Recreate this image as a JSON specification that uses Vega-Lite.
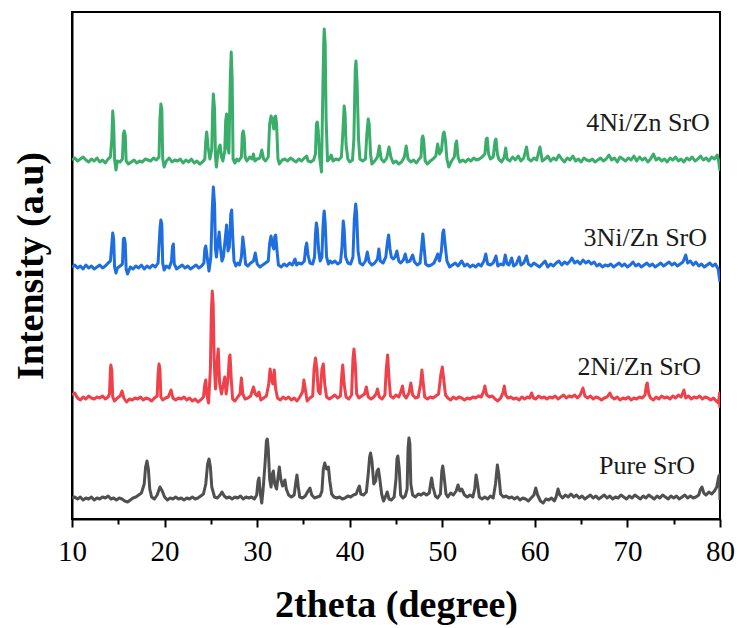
{
"$schema":"https://vega.github.io/schema/vega-lite/v6.json",
"width":648,"height":507,
"autosize":{"type":"none"},
"padding":{"left":72,"top":12,"right":19,"bottom":109},
"background":"white",
"config":{"view":{"stroke":"black","strokeWidth":2},"font":"Liberation Serif"},
"encoding":{
 "x":{"field":"x","type":"quantitative","scale":{"domain":[10,80],"nice":false,"zero":false},
  "axis":{"values":[10,15,20,25,30,35,40,45,50,55,60,65,70,75,80],"labelExpr":"datum.value % 10 === 0 ? datum.label : ''","tickSize":{"condition":{"test":"datum.value % 10 === 0","value":8},"value":5},"tickColor":"black","tickWidth":2,"domainColor":"black","domainWidth":2,"grid":false,"labelFont":"Liberation Serif","labelFontSize":29,"labelColor":"black","labelPadding":10,"labelFlush":false,"labelOverlap":false,"title":"2theta (degree)","titleFont":"Liberation Serif","titleFontSize":38,"titleFontWeight":"bold","titleColor":"black","titlePadding":20}},
 "y":{"field":"y","type":"quantitative","scale":{"domain":[0,507],"nice":false,"zero":false},
  "axis":{"ticks":false,"labels":false,"grid":false,"domainColor":"black","domainWidth":2,"title":"Intensity (a.u)","titleFont":"Liberation Serif","titleFontSize":38,"titleFontWeight":"bold","titleColor":"black","titlePadding":22}}
},
"layer":[
{"data":{"values":[
{"s":"g","x":10.0,"y":359},{"s":"g","x":10.3,"y":361},{"s":"g","x":10.6,"y":358},{"s":"g","x":10.9,"y":360},{"s":"g","x":11.2,"y":362},{"s":"g","x":11.5,"y":359},{"s":"g","x":11.8,"y":357},{"s":"g","x":12.1,"y":360},{"s":"g","x":12.4,"y":358},{"s":"g","x":12.7,"y":361},{"s":"g","x":13.0,"y":357},{"s":"g","x":13.3,"y":359},{"s":"g","x":13.6,"y":356},{"s":"g","x":13.9,"y":360},{"s":"g","x":14.15,"y":362},{"s":"g","x":14.3,"y":380},{"s":"g","x":14.4,"y":408},{"s":"g","x":14.5,"y":395},{"s":"g","x":14.6,"y":360},{"s":"g","x":14.75,"y":349},{"s":"g","x":14.9,"y":358},{"s":"g","x":15.2,"y":357},{"s":"g","x":15.45,"y":360},{"s":"g","x":15.55,"y":385},{"s":"g","x":15.65,"y":388},{"s":"g","x":15.75,"y":384},{"s":"g","x":15.85,"y":358},{"s":"g","x":16.1,"y":355},{"s":"g","x":16.4,"y":357},{"s":"g","x":16.7,"y":359},{"s":"g","x":17.0,"y":356},{"s":"g","x":17.3,"y":358},{"s":"g","x":17.6,"y":357},{"s":"g","x":17.9,"y":360},{"s":"g","x":18.2,"y":359},{"s":"g","x":18.5,"y":358},{"s":"g","x":18.8,"y":361},{"s":"g","x":19.1,"y":359},{"s":"g","x":19.4,"y":362},{"s":"g","x":19.5,"y":400},{"s":"g","x":19.6,"y":415},{"s":"g","x":19.7,"y":410},{"s":"g","x":19.8,"y":360},{"s":"g","x":19.95,"y":352},{"s":"g","x":20.2,"y":358},{"s":"g","x":20.5,"y":361},{"s":"g","x":20.8,"y":357},{"s":"g","x":21.1,"y":359},{"s":"g","x":21.4,"y":358},{"s":"g","x":21.7,"y":360},{"s":"g","x":22.0,"y":356},{"s":"g","x":22.3,"y":359},{"s":"g","x":22.6,"y":357},{"s":"g","x":22.9,"y":360},{"s":"g","x":23.2,"y":356},{"s":"g","x":23.5,"y":358},{"s":"g","x":23.8,"y":355},{"s":"g","x":24.1,"y":357},{"s":"g","x":24.35,"y":360},{"s":"g","x":24.45,"y":378},{"s":"g","x":24.55,"y":387},{"s":"g","x":24.7,"y":372},{"s":"g","x":24.9,"y":360},{"s":"g","x":25.1,"y":370},{"s":"g","x":25.2,"y":410},{"s":"g","x":25.27,"y":425},{"s":"g","x":25.4,"y":410},{"s":"g","x":25.5,"y":362},{"s":"g","x":25.6,"y":352},{"s":"g","x":25.75,"y":365},{"s":"g","x":25.9,"y":372},{"s":"g","x":26.0,"y":374},{"s":"g","x":26.15,"y":362},{"s":"g","x":26.3,"y":358},{"s":"g","x":26.5,"y":368},{"s":"g","x":26.6,"y":398},{"s":"g","x":26.7,"y":405},{"s":"g","x":26.8,"y":372},{"s":"g","x":26.95,"y":366},{"s":"g","x":27.1,"y":440},{"s":"g","x":27.2,"y":467},{"s":"g","x":27.3,"y":440},{"s":"g","x":27.4,"y":360},{"s":"g","x":27.6,"y":356},{"s":"g","x":27.8,"y":360},{"s":"g","x":28.0,"y":358},{"s":"g","x":28.3,"y":362},{"s":"g","x":28.4,"y":385},{"s":"g","x":28.5,"y":388},{"s":"g","x":28.6,"y":382},{"s":"g","x":28.7,"y":362},{"s":"g","x":28.9,"y":358},{"s":"g","x":29.2,"y":362},{"s":"g","x":29.45,"y":360},{"s":"g","x":29.6,"y":365},{"s":"g","x":29.75,"y":358},{"s":"g","x":30.0,"y":360},{"s":"g","x":30.3,"y":361},{"s":"g","x":30.5,"y":369},{"s":"g","x":30.7,"y":360},{"s":"g","x":30.9,"y":358},{"s":"g","x":31.2,"y":362},{"s":"g","x":31.35,"y":395},{"s":"g","x":31.5,"y":403},{"s":"g","x":31.65,"y":398},{"s":"g","x":31.8,"y":390},{"s":"g","x":31.9,"y":402},{"s":"g","x":32.0,"y":403},{"s":"g","x":32.1,"y":395},{"s":"g","x":32.25,"y":360},{"s":"g","x":32.4,"y":355},{"s":"g","x":32.7,"y":359},{"s":"g","x":33.0,"y":360},{"s":"g","x":33.3,"y":358},{"s":"g","x":33.6,"y":361},{"s":"g","x":33.9,"y":359},{"s":"g","x":34.2,"y":357},{"s":"g","x":34.5,"y":360},{"s":"g","x":34.8,"y":358},{"s":"g","x":35.1,"y":361},{"s":"g","x":35.25,"y":362},{"s":"g","x":35.35,"y":363},{"s":"g","x":35.5,"y":358},{"s":"g","x":35.8,"y":357},{"s":"g","x":36.1,"y":359},{"s":"g","x":36.3,"y":365},{"s":"g","x":36.4,"y":395},{"s":"g","x":36.5,"y":397},{"s":"g","x":36.6,"y":388},{"s":"g","x":36.75,"y":362},{"s":"g","x":36.95,"y":347},{"s":"g","x":37.1,"y":430},{"s":"g","x":37.2,"y":480},{"s":"g","x":37.25,"y":490},{"s":"g","x":37.35,"y":475},{"s":"g","x":37.45,"y":400},{"s":"g","x":37.6,"y":358},{"s":"g","x":37.8,"y":360},{"s":"g","x":38.0,"y":364},{"s":"g","x":38.2,"y":358},{"s":"g","x":38.5,"y":360},{"s":"g","x":38.8,"y":359},{"s":"g","x":39.1,"y":362},{"s":"g","x":39.25,"y":385},{"s":"g","x":39.4,"y":413},{"s":"g","x":39.5,"y":405},{"s":"g","x":39.6,"y":375},{"s":"g","x":39.8,"y":360},{"s":"g","x":40.0,"y":357},{"s":"g","x":40.3,"y":359},{"s":"g","x":40.45,"y":380},{"s":"g","x":40.6,"y":450},{"s":"g","x":40.68,"y":458},{"s":"g","x":40.8,"y":435},{"s":"g","x":40.95,"y":380},{"s":"g","x":41.1,"y":360},{"s":"g","x":41.4,"y":358},{"s":"g","x":41.7,"y":360},{"s":"g","x":41.85,"y":385},{"s":"g","x":42.0,"y":400},{"s":"g","x":42.1,"y":395},{"s":"g","x":42.25,"y":365},{"s":"g","x":42.4,"y":355},{"s":"g","x":42.7,"y":358},{"s":"g","x":43.0,"y":362},{"s":"g","x":43.2,"y":373},{"s":"g","x":43.4,"y":360},{"s":"g","x":43.7,"y":357},{"s":"g","x":44.0,"y":361},{"s":"g","x":44.25,"y":372},{"s":"g","x":44.45,"y":362},{"s":"g","x":44.7,"y":356},{"s":"g","x":45.0,"y":358},{"s":"g","x":45.3,"y":355},{"s":"g","x":45.6,"y":357},{"s":"g","x":45.9,"y":362},{"s":"g","x":46.1,"y":373},{"s":"g","x":46.3,"y":360},{"s":"g","x":46.6,"y":357},{"s":"g","x":46.9,"y":359},{"s":"g","x":47.2,"y":356},{"s":"g","x":47.5,"y":360},{"s":"g","x":47.7,"y":362},{"s":"g","x":47.8,"y":380},{"s":"g","x":47.9,"y":383},{"s":"g","x":48.0,"y":378},{"s":"g","x":48.15,"y":358},{"s":"g","x":48.4,"y":355},{"s":"g","x":48.7,"y":358},{"s":"g","x":49.0,"y":360},{"s":"g","x":49.3,"y":363},{"s":"g","x":49.5,"y":375},{"s":"g","x":49.7,"y":365},{"s":"g","x":49.9,"y":368},{"s":"g","x":50.1,"y":385},{"s":"g","x":50.2,"y":387},{"s":"g","x":50.35,"y":378},{"s":"g","x":50.5,"y":360},{"s":"g","x":50.7,"y":352},{"s":"g","x":51.0,"y":358},{"s":"g","x":51.3,"y":362},{"s":"g","x":51.45,"y":375},{"s":"g","x":51.55,"y":378},{"s":"g","x":51.7,"y":362},{"s":"g","x":51.9,"y":357},{"s":"g","x":52.2,"y":359},{"s":"g","x":52.5,"y":357},{"s":"g","x":52.8,"y":360},{"s":"g","x":53.1,"y":358},{"s":"g","x":53.4,"y":361},{"s":"g","x":53.7,"y":359},{"s":"g","x":54.0,"y":360},{"s":"g","x":54.3,"y":362},{"s":"g","x":54.6,"y":365},{"s":"g","x":54.75,"y":380},{"s":"g","x":54.85,"y":381},{"s":"g","x":55.0,"y":365},{"s":"g","x":55.2,"y":360},{"s":"g","x":55.5,"y":362},{"s":"g","x":55.7,"y":378},{"s":"g","x":55.8,"y":380},{"s":"g","x":55.95,"y":365},{"s":"g","x":56.1,"y":360},{"s":"g","x":56.4,"y":357},{"s":"g","x":56.7,"y":362},{"s":"g","x":56.85,"y":371},{"s":"g","x":57.0,"y":360},{"s":"g","x":57.3,"y":358},{"s":"g","x":57.6,"y":362},{"s":"g","x":57.9,"y":359},{"s":"g","x":58.2,"y":363},{"s":"g","x":58.5,"y":358},{"s":"g","x":58.8,"y":361},{"s":"g","x":59.1,"y":372},{"s":"g","x":59.3,"y":360},{"s":"g","x":59.6,"y":358},{"s":"g","x":59.9,"y":361},{"s":"g","x":60.2,"y":359},{"s":"g","x":60.55,"y":372},{"s":"g","x":60.8,"y":358},{"s":"g","x":61.1,"y":360},{"s":"g","x":61.4,"y":363},{"s":"g","x":61.7,"y":358},{"s":"g","x":62.0,"y":361},{"s":"g","x":62.3,"y":359},{"s":"g","x":62.6,"y":364},{"s":"g","x":62.9,"y":360},{"s":"g","x":63.2,"y":357},{"s":"g","x":63.5,"y":361},{"s":"g","x":63.8,"y":359},{"s":"g","x":64.1,"y":363},{"s":"g","x":64.4,"y":358},{"s":"g","x":64.7,"y":360},{"s":"g","x":65.0,"y":357},{"s":"g","x":65.3,"y":361},{"s":"g","x":65.6,"y":359},{"s":"g","x":65.9,"y":358},{"s":"g","x":66.2,"y":360},{"s":"g","x":66.5,"y":357},{"s":"g","x":66.8,"y":359},{"s":"g","x":67.1,"y":361},{"s":"g","x":67.4,"y":358},{"s":"g","x":67.7,"y":360},{"s":"g","x":68.0,"y":364},{"s":"g","x":68.3,"y":359},{"s":"g","x":68.6,"y":361},{"s":"g","x":68.9,"y":357},{"s":"g","x":69.2,"y":362},{"s":"g","x":69.5,"y":360},{"s":"g","x":69.8,"y":358},{"s":"g","x":70.1,"y":361},{"s":"g","x":70.4,"y":359},{"s":"g","x":70.7,"y":363},{"s":"g","x":71.0,"y":358},{"s":"g","x":71.3,"y":362},{"s":"g","x":71.6,"y":359},{"s":"g","x":71.9,"y":361},{"s":"g","x":72.2,"y":357},{"s":"g","x":72.5,"y":360},{"s":"g","x":72.8,"y":365},{"s":"g","x":73.1,"y":359},{"s":"g","x":73.4,"y":361},{"s":"g","x":73.7,"y":358},{"s":"g","x":74.0,"y":360},{"s":"g","x":74.3,"y":357},{"s":"g","x":74.6,"y":361},{"s":"g","x":74.9,"y":359},{"s":"g","x":75.2,"y":362},{"s":"g","x":75.5,"y":358},{"s":"g","x":75.8,"y":360},{"s":"g","x":76.1,"y":357},{"s":"g","x":76.4,"y":361},{"s":"g","x":76.7,"y":359},{"s":"g","x":77.0,"y":362},{"s":"g","x":77.3,"y":358},{"s":"g","x":77.6,"y":360},{"s":"g","x":77.9,"y":363},{"s":"g","x":78.2,"y":359},{"s":"g","x":78.5,"y":361},{"s":"g","x":78.8,"y":358},{"s":"g","x":79.1,"y":362},{"s":"g","x":79.4,"y":360},{"s":"g","x":79.7,"y":364},{"s":"g","x":79.85,"y":358},{"s":"g","x":80.0,"y":348},
{"s":"b","x":10.0,"y":252},{"s":"b","x":10.3,"y":254},{"s":"b","x":10.6,"y":251},{"s":"b","x":10.9,"y":253},{"s":"b","x":11.2,"y":250},{"s":"b","x":11.5,"y":254},{"s":"b","x":11.8,"y":251},{"s":"b","x":12.1,"y":253},{"s":"b","x":12.4,"y":250},{"s":"b","x":12.7,"y":252},{"s":"b","x":13.0,"y":254},{"s":"b","x":13.3,"y":251},{"s":"b","x":13.6,"y":253},{"s":"b","x":13.9,"y":256},{"s":"b","x":14.15,"y":258},{"s":"b","x":14.3,"y":275},{"s":"b","x":14.4,"y":286},{"s":"b","x":14.5,"y":280},{"s":"b","x":14.6,"y":252},{"s":"b","x":14.75,"y":246},{"s":"b","x":14.9,"y":251},{"s":"b","x":15.2,"y":253},{"s":"b","x":15.45,"y":255},{"s":"b","x":15.55,"y":280},{"s":"b","x":15.65,"y":281},{"s":"b","x":15.75,"y":276},{"s":"b","x":15.85,"y":250},{"s":"b","x":16.0,"y":245},{"s":"b","x":16.3,"y":252},{"s":"b","x":16.6,"y":250},{"s":"b","x":16.9,"y":253},{"s":"b","x":17.2,"y":251},{"s":"b","x":17.5,"y":254},{"s":"b","x":17.8,"y":250},{"s":"b","x":18.1,"y":253},{"s":"b","x":18.4,"y":251},{"s":"b","x":18.7,"y":254},{"s":"b","x":19.0,"y":252},{"s":"b","x":19.3,"y":256},{"s":"b","x":19.5,"y":290},{"s":"b","x":19.6,"y":299},{"s":"b","x":19.7,"y":295},{"s":"b","x":19.8,"y":256},{"s":"b","x":19.95,"y":249},{"s":"b","x":20.2,"y":253},{"s":"b","x":20.5,"y":251},{"s":"b","x":20.75,"y":258},{"s":"b","x":20.85,"y":272},{"s":"b","x":20.95,"y":275},{"s":"b","x":21.05,"y":255},{"s":"b","x":21.3,"y":250},{"s":"b","x":21.6,"y":252},{"s":"b","x":21.9,"y":254},{"s":"b","x":22.2,"y":251},{"s":"b","x":22.5,"y":253},{"s":"b","x":22.8,"y":250},{"s":"b","x":23.1,"y":252},{"s":"b","x":23.4,"y":254},{"s":"b","x":23.7,"y":251},{"s":"b","x":24.0,"y":253},{"s":"b","x":24.25,"y":256},{"s":"b","x":24.35,"y":270},{"s":"b","x":24.45,"y":273},{"s":"b","x":24.6,"y":262},{"s":"b","x":24.8,"y":248},{"s":"b","x":25.0,"y":262},{"s":"b","x":25.15,"y":310},{"s":"b","x":25.27,"y":332},{"s":"b","x":25.4,"y":315},{"s":"b","x":25.5,"y":270},{"s":"b","x":25.6,"y":262},{"s":"b","x":25.75,"y":275},{"s":"b","x":25.9,"y":287},{"s":"b","x":26.05,"y":270},{"s":"b","x":26.2,"y":258},{"s":"b","x":26.35,"y":262},{"s":"b","x":26.55,"y":280},{"s":"b","x":26.7,"y":294},{"s":"b","x":26.85,"y":268},{"s":"b","x":27.0,"y":272},{"s":"b","x":27.15,"y":305},{"s":"b","x":27.25,"y":309},{"s":"b","x":27.35,"y":285},{"s":"b","x":27.5,"y":258},{"s":"b","x":27.7,"y":253},{"s":"b","x":27.9,"y":256},{"s":"b","x":28.1,"y":254},{"s":"b","x":28.3,"y":262},{"s":"b","x":28.45,"y":282},{"s":"b","x":28.6,"y":270},{"s":"b","x":28.75,"y":255},{"s":"b","x":29.0,"y":253},{"s":"b","x":29.3,"y":256},{"s":"b","x":29.6,"y":258},{"s":"b","x":29.8,"y":266},{"s":"b","x":30.0,"y":255},{"s":"b","x":30.3,"y":252},{"s":"b","x":30.6,"y":254},{"s":"b","x":30.9,"y":256},{"s":"b","x":31.2,"y":258},{"s":"b","x":31.35,"y":276},{"s":"b","x":31.5,"y":283},{"s":"b","x":31.65,"y":274},{"s":"b","x":31.8,"y":270},{"s":"b","x":31.9,"y":282},{"s":"b","x":32.0,"y":284},{"s":"b","x":32.15,"y":268},{"s":"b","x":32.3,"y":254},{"s":"b","x":32.6,"y":252},{"s":"b","x":32.9,"y":255},{"s":"b","x":33.2,"y":253},{"s":"b","x":33.5,"y":256},{"s":"b","x":33.8,"y":254},{"s":"b","x":34.0,"y":258},{"s":"b","x":34.1,"y":260},{"s":"b","x":34.25,"y":254},{"s":"b","x":34.5,"y":256},{"s":"b","x":34.8,"y":255},{"s":"b","x":35.1,"y":258},{"s":"b","x":35.25,"y":272},{"s":"b","x":35.35,"y":276},{"s":"b","x":35.5,"y":264},{"s":"b","x":35.7,"y":256},{"s":"b","x":36.0,"y":255},{"s":"b","x":36.2,"y":262},{"s":"b","x":36.3,"y":285},{"s":"b","x":36.4,"y":296},{"s":"b","x":36.5,"y":290},{"s":"b","x":36.65,"y":268},{"s":"b","x":36.8,"y":258},{"s":"b","x":37.0,"y":262},{"s":"b","x":37.1,"y":290},{"s":"b","x":37.2,"y":305},{"s":"b","x":37.25,"y":308},{"s":"b","x":37.35,"y":296},{"s":"b","x":37.5,"y":262},{"s":"b","x":37.7,"y":255},{"s":"b","x":37.9,"y":258},{"s":"b","x":38.1,"y":256},{"s":"b","x":38.4,"y":258},{"s":"b","x":38.7,"y":255},{"s":"b","x":39.0,"y":257},{"s":"b","x":39.15,"y":270},{"s":"b","x":39.3,"y":298},{"s":"b","x":39.4,"y":290},{"s":"b","x":39.55,"y":262},{"s":"b","x":39.8,"y":256},{"s":"b","x":40.1,"y":255},{"s":"b","x":40.35,"y":262},{"s":"b","x":40.5,"y":300},{"s":"b","x":40.65,"y":315},{"s":"b","x":40.75,"y":305},{"s":"b","x":40.9,"y":268},{"s":"b","x":41.1,"y":256},{"s":"b","x":41.4,"y":254},{"s":"b","x":41.7,"y":258},{"s":"b","x":41.9,"y":267},{"s":"b","x":42.1,"y":257},{"s":"b","x":42.4,"y":254},{"s":"b","x":42.7,"y":256},{"s":"b","x":43.0,"y":260},{"s":"b","x":43.15,"y":270},{"s":"b","x":43.3,"y":258},{"s":"b","x":43.6,"y":256},{"s":"b","x":43.9,"y":262},{"s":"b","x":44.05,"y":275},{"s":"b","x":44.2,"y":284},{"s":"b","x":44.35,"y":270},{"s":"b","x":44.5,"y":262},{"s":"b","x":44.7,"y":260},{"s":"b","x":44.9,"y":262},{"s":"b","x":45.1,"y":268},{"s":"b","x":45.3,"y":258},{"s":"b","x":45.5,"y":256},{"s":"b","x":45.8,"y":259},{"s":"b","x":46.0,"y":265},{"s":"b","x":46.2,"y":257},{"s":"b","x":46.5,"y":258},{"s":"b","x":46.8,"y":264},{"s":"b","x":47.0,"y":257},{"s":"b","x":47.3,"y":254},{"s":"b","x":47.6,"y":256},{"s":"b","x":47.75,"y":270},{"s":"b","x":47.9,"y":285},{"s":"b","x":48.05,"y":270},{"s":"b","x":48.2,"y":255},{"s":"b","x":48.5,"y":253},{"s":"b","x":48.8,"y":254},{"s":"b","x":49.1,"y":256},{"s":"b","x":49.3,"y":260},{"s":"b","x":49.5,"y":265},{"s":"b","x":49.7,"y":258},{"s":"b","x":49.9,"y":268},{"s":"b","x":50.05,"y":286},{"s":"b","x":50.15,"y":289},{"s":"b","x":50.3,"y":275},{"s":"b","x":50.5,"y":258},{"s":"b","x":50.8,"y":252},{"s":"b","x":51.1,"y":254},{"s":"b","x":51.4,"y":256},{"s":"b","x":51.7,"y":253},{"s":"b","x":52.1,"y":258},{"s":"b","x":52.4,"y":253},{"s":"b","x":52.7,"y":255},{"s":"b","x":53.0,"y":252},{"s":"b","x":53.3,"y":254},{"s":"b","x":53.6,"y":252},{"s":"b","x":53.9,"y":255},{"s":"b","x":54.2,"y":253},{"s":"b","x":54.5,"y":258},{"s":"b","x":54.7,"y":265},{"s":"b","x":54.9,"y":255},{"s":"b","x":55.2,"y":254},{"s":"b","x":55.5,"y":256},{"s":"b","x":55.8,"y":263},{"s":"b","x":56.0,"y":253},{"s":"b","x":56.3,"y":255},{"s":"b","x":56.6,"y":254},{"s":"b","x":56.8,"y":264},{"s":"b","x":57.0,"y":255},{"s":"b","x":57.2,"y":254},{"s":"b","x":57.5,"y":261},{"s":"b","x":57.7,"y":253},{"s":"b","x":58.0,"y":255},{"s":"b","x":58.3,"y":262},{"s":"b","x":58.5,"y":254},{"s":"b","x":58.8,"y":256},{"s":"b","x":59.1,"y":263},{"s":"b","x":59.3,"y":255},{"s":"b","x":59.6,"y":253},{"s":"b","x":59.9,"y":256},{"s":"b","x":60.2,"y":254},{"s":"b","x":60.5,"y":252},{"s":"b","x":60.8,"y":255},{"s":"b","x":61.1,"y":258},{"s":"b","x":61.4,"y":252},{"s":"b","x":61.7,"y":255},{"s":"b","x":62.0,"y":253},{"s":"b","x":62.3,"y":256},{"s":"b","x":62.6,"y":258},{"s":"b","x":62.9,"y":254},{"s":"b","x":63.2,"y":257},{"s":"b","x":63.5,"y":255},{"s":"b","x":63.8,"y":258},{"s":"b","x":64.0,"y":261},{"s":"b","x":64.3,"y":256},{"s":"b","x":64.6,"y":258},{"s":"b","x":64.9,"y":255},{"s":"b","x":65.2,"y":259},{"s":"b","x":65.5,"y":256},{"s":"b","x":65.8,"y":258},{"s":"b","x":66.1,"y":255},{"s":"b","x":66.4,"y":257},{"s":"b","x":66.7,"y":253},{"s":"b","x":67.0,"y":255},{"s":"b","x":67.3,"y":252},{"s":"b","x":67.6,"y":254},{"s":"b","x":67.9,"y":253},{"s":"b","x":68.2,"y":255},{"s":"b","x":68.5,"y":252},{"s":"b","x":68.8,"y":254},{"s":"b","x":69.1,"y":256},{"s":"b","x":69.4,"y":253},{"s":"b","x":69.7,"y":255},{"s":"b","x":70.0,"y":252},{"s":"b","x":70.3,"y":254},{"s":"b","x":70.6,"y":257},{"s":"b","x":70.9,"y":253},{"s":"b","x":71.2,"y":255},{"s":"b","x":71.5,"y":252},{"s":"b","x":71.8,"y":254},{"s":"b","x":72.1,"y":256},{"s":"b","x":72.4,"y":253},{"s":"b","x":72.7,"y":255},{"s":"b","x":73.0,"y":252},{"s":"b","x":73.3,"y":254},{"s":"b","x":73.6,"y":256},{"s":"b","x":73.9,"y":253},{"s":"b","x":74.2,"y":255},{"s":"b","x":74.5,"y":257},{"s":"b","x":74.8,"y":254},{"s":"b","x":75.1,"y":256},{"s":"b","x":75.4,"y":253},{"s":"b","x":75.7,"y":255},{"s":"b","x":76.0,"y":257},{"s":"b","x":76.3,"y":264},{"s":"b","x":76.5,"y":256},{"s":"b","x":76.8,"y":258},{"s":"b","x":77.1,"y":254},{"s":"b","x":77.4,"y":257},{"s":"b","x":77.7,"y":253},{"s":"b","x":78.0,"y":255},{"s":"b","x":78.3,"y":252},{"s":"b","x":78.6,"y":254},{"s":"b","x":78.9,"y":256},{"s":"b","x":79.2,"y":253},{"s":"b","x":79.5,"y":255},{"s":"b","x":79.8,"y":250},{"s":"b","x":80.0,"y":237},
{"s":"r","x":10.0,"y":124},{"s":"r","x":10.3,"y":126},{"s":"r","x":10.6,"y":121},{"s":"r","x":10.9,"y":119},{"s":"r","x":11.2,"y":122},{"s":"r","x":11.5,"y":120},{"s":"r","x":11.8,"y":123},{"s":"r","x":12.1,"y":121},{"s":"r","x":12.4,"y":120},{"s":"r","x":12.7,"y":122},{"s":"r","x":13.0,"y":121},{"s":"r","x":13.3,"y":123},{"s":"r","x":13.6,"y":120},{"s":"r","x":13.9,"y":122},{"s":"r","x":14.05,"y":125},{"s":"r","x":14.15,"y":150},{"s":"r","x":14.2,"y":154},{"s":"r","x":14.3,"y":148},{"s":"r","x":14.4,"y":122},{"s":"r","x":14.6,"y":118},{"s":"r","x":14.9,"y":121},{"s":"r","x":15.2,"y":123},{"s":"r","x":15.4,"y":128},{"s":"r","x":15.6,"y":121},{"s":"r","x":15.9,"y":117},{"s":"r","x":16.2,"y":120},{"s":"r","x":16.5,"y":119},{"s":"r","x":16.8,"y":121},{"s":"r","x":17.1,"y":120},{"s":"r","x":17.4,"y":122},{"s":"r","x":17.7,"y":119},{"s":"r","x":18.0,"y":121},{"s":"r","x":18.3,"y":120},{"s":"r","x":18.6,"y":118},{"s":"r","x":18.9,"y":121},{"s":"r","x":19.2,"y":123},{"s":"r","x":19.3,"y":145},{"s":"r","x":19.4,"y":155},{"s":"r","x":19.5,"y":150},{"s":"r","x":19.6,"y":122},{"s":"r","x":19.8,"y":119},{"s":"r","x":20.1,"y":121},{"s":"r","x":20.4,"y":122},{"s":"r","x":20.7,"y":129},{"s":"r","x":20.9,"y":121},{"s":"r","x":21.2,"y":119},{"s":"r","x":21.5,"y":121},{"s":"r","x":21.8,"y":120},{"s":"r","x":22.1,"y":122},{"s":"r","x":22.4,"y":119},{"s":"r","x":22.7,"y":121},{"s":"r","x":23.0,"y":118},{"s":"r","x":23.3,"y":120},{"s":"r","x":23.6,"y":117},{"s":"r","x":23.9,"y":119},{"s":"r","x":24.2,"y":122},{"s":"r","x":24.35,"y":135},{"s":"r","x":24.45,"y":139},{"s":"r","x":24.55,"y":125},{"s":"r","x":24.75,"y":116},{"s":"r","x":24.95,"y":150},{"s":"r","x":25.05,"y":205},{"s":"r","x":25.15,"y":228},{"s":"r","x":25.25,"y":215},{"s":"r","x":25.35,"y":160},{"s":"r","x":25.5,"y":130},{"s":"r","x":25.7,"y":160},{"s":"r","x":25.8,"y":170},{"s":"r","x":25.95,"y":135},{"s":"r","x":26.15,"y":125},{"s":"r","x":26.35,"y":135},{"s":"r","x":26.5,"y":142},{"s":"r","x":26.65,"y":125},{"s":"r","x":26.85,"y":140},{"s":"r","x":27.0,"y":162},{"s":"r","x":27.07,"y":164},{"s":"r","x":27.2,"y":140},{"s":"r","x":27.35,"y":120},{"s":"r","x":27.6,"y":118},{"s":"r","x":27.9,"y":122},{"s":"r","x":28.15,"y":125},{"s":"r","x":28.3,"y":141},{"s":"r","x":28.45,"y":125},{"s":"r","x":28.7,"y":120},{"s":"r","x":29.0,"y":121},{"s":"r","x":29.3,"y":123},{"s":"r","x":29.6,"y":132},{"s":"r","x":29.8,"y":125},{"s":"r","x":30.0,"y":123},{"s":"r","x":30.2,"y":127},{"s":"r","x":30.4,"y":119},{"s":"r","x":30.7,"y":121},{"s":"r","x":31.0,"y":123},{"s":"r","x":31.25,"y":135},{"s":"r","x":31.4,"y":150},{"s":"r","x":31.55,"y":140},{"s":"r","x":31.7,"y":135},{"s":"r","x":31.85,"y":149},{"s":"r","x":32.0,"y":130},{"s":"r","x":32.2,"y":121},{"s":"r","x":32.5,"y":119},{"s":"r","x":32.8,"y":122},{"s":"r","x":33.1,"y":120},{"s":"r","x":33.4,"y":122},{"s":"r","x":33.7,"y":119},{"s":"r","x":34.0,"y":121},{"s":"r","x":34.3,"y":118},{"s":"r","x":34.6,"y":122},{"s":"r","x":34.9,"y":127},{"s":"r","x":35.05,"y":139},{"s":"r","x":35.2,"y":130},{"s":"r","x":35.4,"y":118},{"s":"r","x":35.7,"y":121},{"s":"r","x":36.0,"y":123},{"s":"r","x":36.15,"y":150},{"s":"r","x":36.3,"y":161},{"s":"r","x":36.45,"y":150},{"s":"r","x":36.6,"y":128},{"s":"r","x":36.8,"y":125},{"s":"r","x":37.0,"y":150},{"s":"r","x":37.15,"y":155},{"s":"r","x":37.3,"y":135},{"s":"r","x":37.5,"y":122},{"s":"r","x":37.8,"y":120},{"s":"r","x":38.1,"y":122},{"s":"r","x":38.4,"y":124},{"s":"r","x":38.7,"y":121},{"s":"r","x":39.0,"y":123},{"s":"r","x":39.15,"y":145},{"s":"r","x":39.25,"y":154},{"s":"r","x":39.4,"y":135},{"s":"r","x":39.6,"y":122},{"s":"r","x":39.9,"y":120},{"s":"r","x":40.2,"y":124},{"s":"r","x":40.35,"y":160},{"s":"r","x":40.46,"y":170},{"s":"r","x":40.6,"y":155},{"s":"r","x":40.75,"y":125},{"s":"r","x":41.0,"y":121},{"s":"r","x":41.3,"y":123},{"s":"r","x":41.6,"y":125},{"s":"r","x":41.8,"y":132},{"s":"r","x":42.0,"y":122},{"s":"r","x":42.3,"y":120},{"s":"r","x":42.6,"y":122},{"s":"r","x":42.85,"y":125},{"s":"r","x":43.0,"y":130},{"s":"r","x":43.2,"y":122},{"s":"r","x":43.5,"y":120},{"s":"r","x":43.8,"y":124},{"s":"r","x":43.95,"y":150},{"s":"r","x":44.1,"y":164},{"s":"r","x":44.25,"y":140},{"s":"r","x":44.4,"y":123},{"s":"r","x":44.7,"y":121},{"s":"r","x":45.0,"y":124},{"s":"r","x":45.3,"y":122},{"s":"r","x":45.55,"y":128},{"s":"r","x":45.7,"y":133},{"s":"r","x":45.85,"y":124},{"s":"r","x":46.1,"y":121},{"s":"r","x":46.4,"y":126},{"s":"r","x":46.6,"y":136},{"s":"r","x":46.8,"y":124},{"s":"r","x":47.1,"y":121},{"s":"r","x":47.4,"y":122},{"s":"r","x":47.65,"y":135},{"s":"r","x":47.8,"y":149},{"s":"r","x":47.95,"y":135},{"s":"r","x":48.1,"y":122},{"s":"r","x":48.4,"y":120},{"s":"r","x":48.7,"y":122},{"s":"r","x":49.0,"y":121},{"s":"r","x":49.3,"y":123},{"s":"r","x":49.6,"y":125},{"s":"r","x":49.85,"y":145},{"s":"r","x":50.0,"y":152},{"s":"r","x":50.15,"y":140},{"s":"r","x":50.35,"y":124},{"s":"r","x":50.6,"y":121},{"s":"r","x":50.9,"y":119},{"s":"r","x":51.2,"y":122},{"s":"r","x":51.5,"y":120},{"s":"r","x":51.8,"y":122},{"s":"r","x":52.1,"y":121},{"s":"r","x":52.4,"y":119},{"s":"r","x":52.7,"y":121},{"s":"r","x":53.0,"y":120},{"s":"r","x":53.3,"y":122},{"s":"r","x":53.6,"y":121},{"s":"r","x":53.9,"y":123},{"s":"r","x":54.2,"y":122},{"s":"r","x":54.45,"y":127},{"s":"r","x":54.6,"y":133},{"s":"r","x":54.8,"y":124},{"s":"r","x":55.1,"y":122},{"s":"r","x":55.4,"y":123},{"s":"r","x":55.7,"y":120},{"s":"r","x":56.0,"y":118},{"s":"r","x":56.3,"y":121},{"s":"r","x":56.55,"y":126},{"s":"r","x":56.7,"y":133},{"s":"r","x":56.85,"y":124},{"s":"r","x":57.1,"y":121},{"s":"r","x":57.4,"y":122},{"s":"r","x":57.7,"y":120},{"s":"r","x":58.0,"y":121},{"s":"r","x":58.3,"y":119},{"s":"r","x":58.6,"y":122},{"s":"r","x":58.9,"y":120},{"s":"r","x":59.2,"y":122},{"s":"r","x":59.45,"y":121},{"s":"r","x":59.65,"y":126},{"s":"r","x":59.85,"y":121},{"s":"r","x":60.1,"y":120},{"s":"r","x":60.4,"y":123},{"s":"r","x":60.7,"y":121},{"s":"r","x":61.0,"y":122},{"s":"r","x":61.3,"y":120},{"s":"r","x":61.6,"y":122},{"s":"r","x":61.9,"y":121},{"s":"r","x":62.2,"y":123},{"s":"r","x":62.5,"y":120},{"s":"r","x":62.8,"y":122},{"s":"r","x":63.1,"y":124},{"s":"r","x":63.4,"y":121},{"s":"r","x":63.7,"y":123},{"s":"r","x":64.0,"y":122},{"s":"r","x":64.3,"y":124},{"s":"r","x":64.6,"y":121},{"s":"r","x":64.9,"y":124},{"s":"r","x":65.2,"y":131},{"s":"r","x":65.4,"y":123},{"s":"r","x":65.7,"y":121},{"s":"r","x":66.0,"y":123},{"s":"r","x":66.3,"y":120},{"s":"r","x":66.6,"y":122},{"s":"r","x":66.9,"y":121},{"s":"r","x":67.2,"y":119},{"s":"r","x":67.5,"y":121},{"s":"r","x":67.8,"y":122},{"s":"r","x":68.1,"y":126},{"s":"r","x":68.3,"y":122},{"s":"r","x":68.6,"y":120},{"s":"r","x":68.9,"y":122},{"s":"r","x":69.2,"y":119},{"s":"r","x":69.5,"y":121},{"s":"r","x":69.8,"y":120},{"s":"r","x":70.1,"y":122},{"s":"r","x":70.4,"y":119},{"s":"r","x":70.7,"y":121},{"s":"r","x":71.0,"y":120},{"s":"r","x":71.3,"y":122},{"s":"r","x":71.6,"y":121},{"s":"r","x":71.9,"y":124},{"s":"r","x":72.05,"y":134},{"s":"r","x":72.15,"y":136},{"s":"r","x":72.3,"y":125},{"s":"r","x":72.5,"y":121},{"s":"r","x":72.8,"y":119},{"s":"r","x":73.1,"y":122},{"s":"r","x":73.4,"y":120},{"s":"r","x":73.7,"y":123},{"s":"r","x":74.0,"y":121},{"s":"r","x":74.3,"y":122},{"s":"r","x":74.6,"y":120},{"s":"r","x":74.9,"y":123},{"s":"r","x":75.2,"y":121},{"s":"r","x":75.5,"y":124},{"s":"r","x":75.8,"y":122},{"s":"r","x":76.1,"y":129},{"s":"r","x":76.3,"y":121},{"s":"r","x":76.6,"y":123},{"s":"r","x":76.9,"y":120},{"s":"r","x":77.2,"y":122},{"s":"r","x":77.5,"y":121},{"s":"r","x":77.8,"y":123},{"s":"r","x":78.1,"y":120},{"s":"r","x":78.4,"y":122},{"s":"r","x":78.7,"y":121},{"s":"r","x":79.0,"y":119},{"s":"r","x":79.3,"y":121},{"s":"r","x":79.6,"y":118},{"s":"r","x":79.85,"y":116},{"s":"r","x":79.95,"y":126},{"s":"r","x":80.0,"y":111},
{"s":"k","x":10.0,"y":21},{"s":"k","x":10.3,"y":22},{"s":"k","x":10.6,"y":20},{"s":"k","x":10.9,"y":22},{"s":"k","x":11.2,"y":19},{"s":"k","x":11.5,"y":21},{"s":"k","x":11.8,"y":20},{"s":"k","x":12.1,"y":22},{"s":"k","x":12.4,"y":19},{"s":"k","x":12.7,"y":21},{"s":"k","x":13.0,"y":20},{"s":"k","x":13.3,"y":22},{"s":"k","x":13.6,"y":21},{"s":"k","x":13.9,"y":23},{"s":"k","x":14.2,"y":20},{"s":"k","x":14.5,"y":21},{"s":"k","x":14.8,"y":19},{"s":"k","x":15.1,"y":21},{"s":"k","x":15.4,"y":20},{"s":"k","x":15.7,"y":18},{"s":"k","x":16.0,"y":17},{"s":"k","x":16.3,"y":19},{"s":"k","x":16.6,"y":21},{"s":"k","x":16.9,"y":22},{"s":"k","x":17.2,"y":24},{"s":"k","x":17.5,"y":26},{"s":"k","x":17.8,"y":35},{"s":"k","x":17.95,"y":52},{"s":"k","x":18.1,"y":58},{"s":"k","x":18.25,"y":50},{"s":"k","x":18.4,"y":30},{"s":"k","x":18.6,"y":22},{"s":"k","x":18.9,"y":20},{"s":"k","x":19.2,"y":24},{"s":"k","x":19.5,"y":32},{"s":"k","x":19.75,"y":28},{"s":"k","x":20.0,"y":22},{"s":"k","x":20.3,"y":19},{"s":"k","x":20.6,"y":21},{"s":"k","x":20.9,"y":20},{"s":"k","x":21.2,"y":22},{"s":"k","x":21.5,"y":20},{"s":"k","x":21.8,"y":21},{"s":"k","x":22.1,"y":19},{"s":"k","x":22.4,"y":21},{"s":"k","x":22.7,"y":20},{"s":"k","x":23.0,"y":22},{"s":"k","x":23.3,"y":20},{"s":"k","x":23.6,"y":21},{"s":"k","x":23.9,"y":23},{"s":"k","x":24.2,"y":25},{"s":"k","x":24.45,"y":35},{"s":"k","x":24.65,"y":55},{"s":"k","x":24.8,"y":60},{"s":"k","x":24.95,"y":52},{"s":"k","x":25.1,"y":32},{"s":"k","x":25.4,"y":22},{"s":"k","x":25.7,"y":21},{"s":"k","x":26.0,"y":24},{"s":"k","x":26.2,"y":27},{"s":"k","x":26.45,"y":23},{"s":"k","x":26.7,"y":21},{"s":"k","x":27.0,"y":22},{"s":"k","x":27.3,"y":20},{"s":"k","x":27.6,"y":22},{"s":"k","x":27.9,"y":21},{"s":"k","x":28.2,"y":23},{"s":"k","x":28.5,"y":20},{"s":"k","x":28.8,"y":22},{"s":"k","x":29.1,"y":21},{"s":"k","x":29.4,"y":22},{"s":"k","x":29.7,"y":20},{"s":"k","x":29.95,"y":24},{"s":"k","x":30.1,"y":38},{"s":"k","x":30.2,"y":41},{"s":"k","x":30.35,"y":25},{"s":"k","x":30.5,"y":16},{"s":"k","x":30.65,"y":30},{"s":"k","x":30.85,"y":55},{"s":"k","x":31.0,"y":78},{"s":"k","x":31.1,"y":80},{"s":"k","x":31.2,"y":70},{"s":"k","x":31.35,"y":40},{"s":"k","x":31.5,"y":32},{"s":"k","x":31.65,"y":45},{"s":"k","x":31.75,"y":48},{"s":"k","x":31.9,"y":35},{"s":"k","x":32.1,"y":30},{"s":"k","x":32.3,"y":45},{"s":"k","x":32.4,"y":52},{"s":"k","x":32.55,"y":40},{"s":"k","x":32.75,"y":33},{"s":"k","x":32.9,"y":36},{"s":"k","x":33.0,"y":39},{"s":"k","x":33.15,"y":30},{"s":"k","x":33.4,"y":24},{"s":"k","x":33.7,"y":22},{"s":"k","x":34.0,"y":24},{"s":"k","x":34.2,"y":38},{"s":"k","x":34.3,"y":44},{"s":"k","x":34.45,"y":32},{"s":"k","x":34.6,"y":22},{"s":"k","x":34.9,"y":21},{"s":"k","x":35.2,"y":23},{"s":"k","x":35.5,"y":28},{"s":"k","x":35.7,"y":31},{"s":"k","x":35.9,"y":24},{"s":"k","x":36.2,"y":21},{"s":"k","x":36.5,"y":22},{"s":"k","x":36.8,"y":23},{"s":"k","x":37.0,"y":28},{"s":"k","x":37.15,"y":50},{"s":"k","x":37.3,"y":56},{"s":"k","x":37.5,"y":50},{"s":"k","x":37.7,"y":52},{"s":"k","x":37.85,"y":38},{"s":"k","x":38.05,"y":25},{"s":"k","x":38.3,"y":22},{"s":"k","x":38.6,"y":21},{"s":"k","x":38.9,"y":22},{"s":"k","x":39.2,"y":20},{"s":"k","x":39.5,"y":21},{"s":"k","x":39.8,"y":23},{"s":"k","x":40.1,"y":22},{"s":"k","x":40.4,"y":24},{"s":"k","x":40.7,"y":25},{"s":"k","x":40.9,"y":30},{"s":"k","x":41.05,"y":33},{"s":"k","x":41.2,"y":25},{"s":"k","x":41.5,"y":24},{"s":"k","x":41.8,"y":27},{"s":"k","x":42.0,"y":45},{"s":"k","x":42.15,"y":62},{"s":"k","x":42.25,"y":66},{"s":"k","x":42.4,"y":58},{"s":"k","x":42.6,"y":35},{"s":"k","x":42.8,"y":38},{"s":"k","x":42.95,"y":48},{"s":"k","x":43.1,"y":50},{"s":"k","x":43.25,"y":40},{"s":"k","x":43.45,"y":25},{"s":"k","x":43.65,"y":18},{"s":"k","x":43.85,"y":22},{"s":"k","x":44.05,"y":27},{"s":"k","x":44.25,"y":20},{"s":"k","x":44.5,"y":19},{"s":"k","x":44.8,"y":22},{"s":"k","x":45.0,"y":40},{"s":"k","x":45.1,"y":60},{"s":"k","x":45.2,"y":63},{"s":"k","x":45.35,"y":50},{"s":"k","x":45.5,"y":24},{"s":"k","x":45.75,"y":21},{"s":"k","x":46.0,"y":23},{"s":"k","x":46.2,"y":30},{"s":"k","x":46.3,"y":70},{"s":"k","x":46.4,"y":81},{"s":"k","x":46.5,"y":75},{"s":"k","x":46.6,"y":35},{"s":"k","x":46.8,"y":24},{"s":"k","x":47.1,"y":22},{"s":"k","x":47.4,"y":25},{"s":"k","x":47.7,"y":24},{"s":"k","x":48.0,"y":26},{"s":"k","x":48.3,"y":24},{"s":"k","x":48.6,"y":26},{"s":"k","x":48.75,"y":36},{"s":"k","x":48.85,"y":41},{"s":"k","x":49.0,"y":32},{"s":"k","x":49.25,"y":23},{"s":"k","x":49.5,"y":21},{"s":"k","x":49.8,"y":25},{"s":"k","x":49.95,"y":48},{"s":"k","x":50.05,"y":53},{"s":"k","x":50.2,"y":42},{"s":"k","x":50.4,"y":25},{"s":"k","x":50.6,"y":22},{"s":"k","x":50.9,"y":26},{"s":"k","x":51.2,"y":24},{"s":"k","x":51.5,"y":28},{"s":"k","x":51.7,"y":34},{"s":"k","x":51.9,"y":28},{"s":"k","x":52.1,"y":30},{"s":"k","x":52.4,"y":24},{"s":"k","x":52.7,"y":22},{"s":"k","x":53.0,"y":24},{"s":"k","x":53.3,"y":22},{"s":"k","x":53.5,"y":30},{"s":"k","x":53.65,"y":44},{"s":"k","x":53.8,"y":36},{"s":"k","x":54.0,"y":22},{"s":"k","x":54.3,"y":20},{"s":"k","x":54.6,"y":22},{"s":"k","x":54.9,"y":20},{"s":"k","x":55.2,"y":23},{"s":"k","x":55.5,"y":21},{"s":"k","x":55.75,"y":35},{"s":"k","x":55.95,"y":54},{"s":"k","x":56.1,"y":45},{"s":"k","x":56.3,"y":25},{"s":"k","x":56.6,"y":22},{"s":"k","x":56.9,"y":23},{"s":"k","x":57.2,"y":21},{"s":"k","x":57.5,"y":22},{"s":"k","x":57.8,"y":20},{"s":"k","x":58.1,"y":22},{"s":"k","x":58.4,"y":19},{"s":"k","x":58.7,"y":21},{"s":"k","x":59.0,"y":20},{"s":"k","x":59.3,"y":18},{"s":"k","x":59.6,"y":21},{"s":"k","x":59.9,"y":24},{"s":"k","x":60.1,"y":31},{"s":"k","x":60.3,"y":24},{"s":"k","x":60.6,"y":18},{"s":"k","x":60.9,"y":16},{"s":"k","x":61.2,"y":20},{"s":"k","x":61.5,"y":19},{"s":"k","x":61.8,"y":21},{"s":"k","x":62.1,"y":18},{"s":"k","x":62.3,"y":22},{"s":"k","x":62.5,"y":30},{"s":"k","x":62.7,"y":24},{"s":"k","x":63.0,"y":21},{"s":"k","x":63.3,"y":24},{"s":"k","x":63.6,"y":22},{"s":"k","x":63.9,"y":25},{"s":"k","x":64.2,"y":22},{"s":"k","x":64.5,"y":24},{"s":"k","x":64.8,"y":21},{"s":"k","x":65.1,"y":23},{"s":"k","x":65.4,"y":20},{"s":"k","x":65.7,"y":22},{"s":"k","x":66.0,"y":24},{"s":"k","x":66.3,"y":21},{"s":"k","x":66.6,"y":23},{"s":"k","x":66.9,"y":20},{"s":"k","x":67.2,"y":22},{"s":"k","x":67.5,"y":24},{"s":"k","x":67.8,"y":21},{"s":"k","x":68.1,"y":23},{"s":"k","x":68.4,"y":20},{"s":"k","x":68.7,"y":22},{"s":"k","x":69.0,"y":21},{"s":"k","x":69.3,"y":24},{"s":"k","x":69.6,"y":22},{"s":"k","x":69.9,"y":20},{"s":"k","x":70.2,"y":23},{"s":"k","x":70.5,"y":21},{"s":"k","x":70.8,"y":24},{"s":"k","x":71.1,"y":22},{"s":"k","x":71.4,"y":20},{"s":"k","x":71.7,"y":23},{"s":"k","x":72.0,"y":21},{"s":"k","x":72.3,"y":24},{"s":"k","x":72.6,"y":22},{"s":"k","x":72.9,"y":20},{"s":"k","x":73.2,"y":23},{"s":"k","x":73.5,"y":21},{"s":"k","x":73.8,"y":24},{"s":"k","x":74.1,"y":22},{"s":"k","x":74.4,"y":20},{"s":"k","x":74.7,"y":23},{"s":"k","x":75.0,"y":21},{"s":"k","x":75.3,"y":23},{"s":"k","x":75.6,"y":20},{"s":"k","x":75.9,"y":22},{"s":"k","x":76.2,"y":24},{"s":"k","x":76.5,"y":21},{"s":"k","x":76.8,"y":23},{"s":"k","x":77.1,"y":21},{"s":"k","x":77.4,"y":22},{"s":"k","x":77.7,"y":24},{"s":"k","x":77.9,"y":30},{"s":"k","x":78.05,"y":32},{"s":"k","x":78.25,"y":26},{"s":"k","x":78.5,"y":24},{"s":"k","x":78.8,"y":27},{"s":"k","x":79.1,"y":25},{"s":"k","x":79.4,"y":28},{"s":"k","x":79.65,"y":32},{"s":"k","x":79.85,"y":42},{"s":"k","x":79.95,"y":44},{"s":"k","x":80.0,"y":19}
]},
"mark":{"type":"line","strokeWidth":3,"strokeJoin":"round","clip":true},
"encoding":{"color":{"field":"s","type":"nominal","scale":{"domain":["g","b","r","k"],"range":["#3aad6b","#1f6ee0","#f0414a","#505050"]},"legend":null}}
},
{"data":{"values":[
{"label":"4Ni/Zn SrO","x":78.9,"y":396},
{"label":"3Ni/Zn SrO","x":78.6,"y":281},
{"label":"2Ni/Zn SrO","x":77.95,"y":152},
{"label":"Pure SrO","x":77.3,"y":53}
]},
"mark":{"type":"text","align":"right","baseline":"middle","font":"Liberation Serif","fontSize":26,"color":"#1a1a1a"},
"encoding":{"text":{"field":"label","type":"nominal"}}
}
]
}
